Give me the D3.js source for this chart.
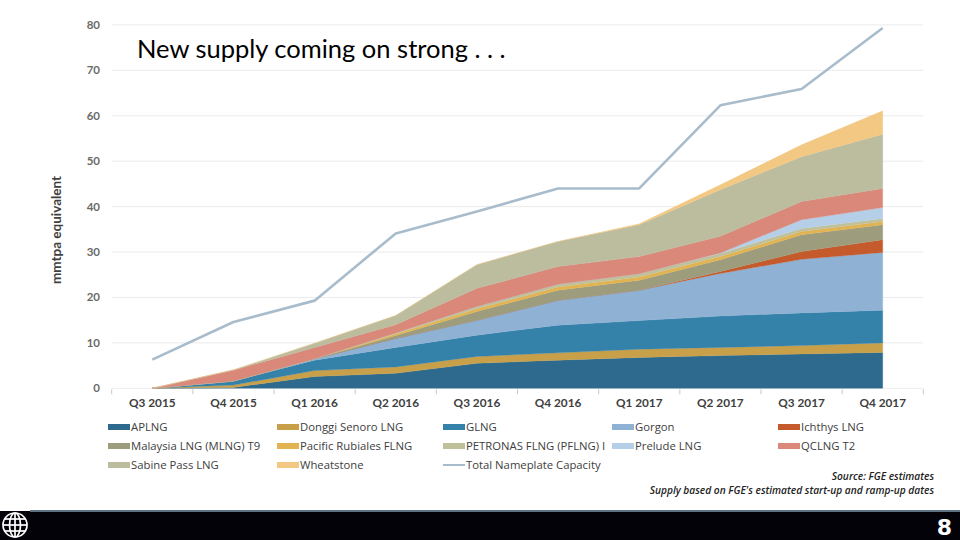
<!DOCTYPE html>
<html><head><meta charset="utf-8">
<script src="https://cdn.jsdelivr.net/npm/d3@7"></script>
<style>
html,body{margin:0;padding:0;background:#fff;}
svg{display:block;}
</style></head>
<body>
<svg id="c" width="960" height="540"></svg>
<script>
const quarters = ["Q3 2015","Q4 2015","Q1 2016","Q2 2016","Q3 2016","Q4 2016","Q1 2017","Q2 2017","Q3 2017","Q4 2017"];
const seriesNames = ["APLNG","Donggi Senoro LNG","GLNG","Gorgon","Ichthys LNG","Malaysia LNG (MLNG) T9","Pacific Rubiales FLNG","PETRONAS FLNG (PFLNG) I","Prelude LNG","QCLNG T2","Sabine Pass LNG","Wheatstone"];
const aplng      = [0, 0.2, 2.6, 3.3, 5.5, 6.2, 6.8, 7.2, 7.55, 7.9];
const donggi     = [0, 0.5, 1.3, 1.4, 1.5, 1.6, 1.8, 1.8, 1.85, 2.1];
const glng       = [0, 0.9, 2.3, 4.3, 4.7, 6.1, 6.3, 6.9, 7.2, 7.2];
const gorgon     = [0, 0, 0.3, 2.0, 3.3, 5.5, 6.7, 9.4, 11.8, 12.7];
const ichthys    = [0, 0, 0, 0, 0, 0, 0, 0.4, 1.7, 2.8];
const malaysia   = [0, 0, 0, 0.6, 1.9, 2.2, 2.2, 2.6, 3.7, 3.3];
const pacific    = [0, 0, 0, 0.4, 0.6, 0.7, 0.7, 0.7, 0.7, 0.7];
const petronas   = [0, 0, 0, 0.2, 0.5, 0.6, 0.7, 0.7, 0.7, 0.7];
const prelude    = [0, 0, 0, 0, 0, 0, 0, 0.1, 1.9, 2.4];
const qclng      = [0, 2.4, 2.5, 1.8, 4.0, 3.9, 3.8, 3.7, 4.0, 4.2];
const sabine     = [0, 0.05, 0.9, 2.0, 5.2, 5.5, 7.0, 10.2, 9.9, 11.9];
const wheatstone = [0, 0, 0, 0, 0, 0, 0.2, 1.1, 2.6, 5.2];
const totalCapacity = [6.3, 14.6, 19.3, 34.1, 38.9, 44.0, 44.0, 62.3, 65.9, 79.3];
const yTicks = [0,10,20,30,40,50,60,70,80];
const seriesValues = [aplng, donggi, glng, gorgon, ichthys, malaysia, pacific, petronas, prelude, qclng, sabine, wheatstone];
const colors = ["#2d6a8d","#c9a04a","#3481aa","#8fb1d3","#c55a2c","#9d9d7d","#e2b350","#c0c19b","#b5cfe8","#d9887a","#bcbc9e","#f2c883"];
const lineName = "Total Nameplate Capacity";
const lineColor = "#a8bccc";

const svg = d3.select("#c");
const x = d3.scaleBand().domain(quarters).range([111.7, 923.3]).padding(0);
const y = d3.scaleLinear().domain([0, 80]).range([388.3, 24.9]);
const cx = q => x(q) + x.bandwidth()/2;

// gridlines
svg.append("g").selectAll("line").data(yTicks).join("line")
  .attr("x1", 111.7).attr("x2", 923.3)
  .attr("y1", d => y(d)).attr("y2", d => y(d))
  .attr("stroke", "#ebebeb").attr("stroke-width", 1);

// y tick labels
svg.append("g").selectAll("text").data(yTicks).join("text")
  .attr("x", 100).attr("y", d => y(d)).attr("dy", "0.35em")
  .attr("text-anchor", "end")
  .attr("font-family", "Lato, 'Open Sans', sans-serif").attr("font-size", 11.5).attr("font-weight", 700)
  .attr("fill", "#6a6a6a").text(d => d);

// x axis ticks
const xAxis = d3.axisBottom(x).tickSize(0).tickPadding(10);
const gx = svg.append("g").attr("transform", `translate(0,${y(0)})`).call(xAxis);
gx.select(".domain").remove();
gx.selectAll("text").attr("font-family", "Lato, 'Open Sans', sans-serif").attr("font-size", 11.8).attr("font-weight", 700).attr("fill", "#404040");
const bounds = quarters.map(q => x(q)).concat([x.range()[1]]);
svg.append("g").selectAll("line").data(bounds).join("line")
  .attr("x1", d => d).attr("x2", d => d)
  .attr("y1", y(0) + 1).attr("y2", y(0) + 6)
  .attr("stroke", "#c8c8c8");

// stacked data
const table = quarters.map((q, i) => {
  const row = {q};
  seriesNames.forEach((s, j) => row[s] = seriesValues[j][i]);
  return row;
});
const stack = d3.stack().keys(seriesNames)(table);
const area = d3.area()
  .x(d => cx(d.data.q))
  .y0(d => y(d[0]))
  .y1(d => y(d[1]));
svg.append("g").selectAll("path").data(stack).join("path")
  .attr("d", area)
  .attr("fill", (d, i) => colors[i])
  .attr("stroke", (d, i) => colors[i]).attr("stroke-width", 0.3);

// total line
const line = d3.line().x((d, i) => cx(quarters[i])).y(d => y(d));
svg.append("path").datum(totalCapacity).attr("d", line)
  .attr("fill", "none").attr("stroke", lineColor).attr("stroke-width", 2.6)
  .attr("stroke-linejoin", "round");

// y axis title
svg.append("text")
  .attr("transform", "translate(61,230) rotate(-90)")
  .attr("text-anchor", "middle")
  .attr("font-family", "Lato, 'Open Sans', sans-serif").attr("font-size", 13.5).attr("font-weight", 700)
  .attr("fill", "#404040").text("mmtpa equivalent");

// title
svg.append("text").attr("x", 137).attr("y", 58)
  .attr("font-family", "Lato, 'Open Sans', sans-serif").attr("font-size", 25.5)
  .attr("fill", "#000").text("New supply coming on strong . . .");

// legend
const legendItems = seriesNames.map((s, i) => ({name: s, color: colors[i], type: "area"}))
  .concat([{name: lineName, color: lineColor, type: "line"}]);
const colX = [108, 277, 443, 612, 778];
const rowY = [427, 446, 465];
const lg = svg.append("g").selectAll("g").data(legendItems).join("g")
  .attr("transform", (d, i) => `translate(${colX[i % 5]},${rowY[Math.floor(i / 5)]})`);
lg.append("rect")
  .attr("x", 0).attr("y", d => d.type === "line" ? -1 : -3)
  .attr("width", 22).attr("height", d => d.type === "line" ? 2 : 6)
  .attr("fill", d => d.color);
lg.append("text").attr("x", 23).attr("y", 0).attr("dy", "0.35em")
  .attr("font-family", "'Open Sans', sans-serif").attr("font-size", 11.3)
  .attr("fill", "#404040").text(d => d.name);

// source
const src = ["Source: FGE estimates", "Supply based on FGE's estimated start-up and ramp-up dates"];
svg.append("g").selectAll("text").data(src).join("text")
  .attr("x", 934).attr("y", (d, i) => 480 + i * 13.5)
  .attr("text-anchor", "end")
  .attr("font-family", "'Open Sans', sans-serif").attr("font-size", 10.2).attr("font-style", "italic").attr("font-weight", 600)
  .attr("fill", "#222").text(d => d);

// footer bar
svg.append("rect").attr("x", 0).attr("y", 511).attr("width", 960).attr("height", 29).attr("fill", "#020208");
svg.append("rect").attr("x", 30).attr("y", 510).attr("width", 930).attr("height", 2).attr("fill", "#5f7282");
const logo = svg.append("g").attr("transform", "translate(15,525)")
  .attr("fill", "none").attr("stroke", "#fff").attr("stroke-width", 1.7);
logo.append("circle").attr("r", 12);
logo.append("ellipse").attr("rx", 5.5).attr("ry", 12);
logo.append("line").attr("x1", 0).attr("x2", 0).attr("y1", -12).attr("y2", 12);
logo.append("line").attr("x1", -12).attr("x2", 12).attr("y1", 0).attr("y2", 0);
logo.append("line").attr("x1", -10.4).attr("x2", 10.4).attr("y1", -6).attr("y2", -6);
logo.append("line").attr("x1", -10.4).attr("x2", 10.4).attr("y1", 6).attr("y2", 6);
svg.append("text").attr("x", 952).attr("y", 535).attr("text-anchor", "end")
  .attr("font-family", "'DejaVu Sans', sans-serif").attr("font-size", 22).attr("font-weight", 700)
  .attr("fill", "#fff").text("8");
</script>
</body></html>
